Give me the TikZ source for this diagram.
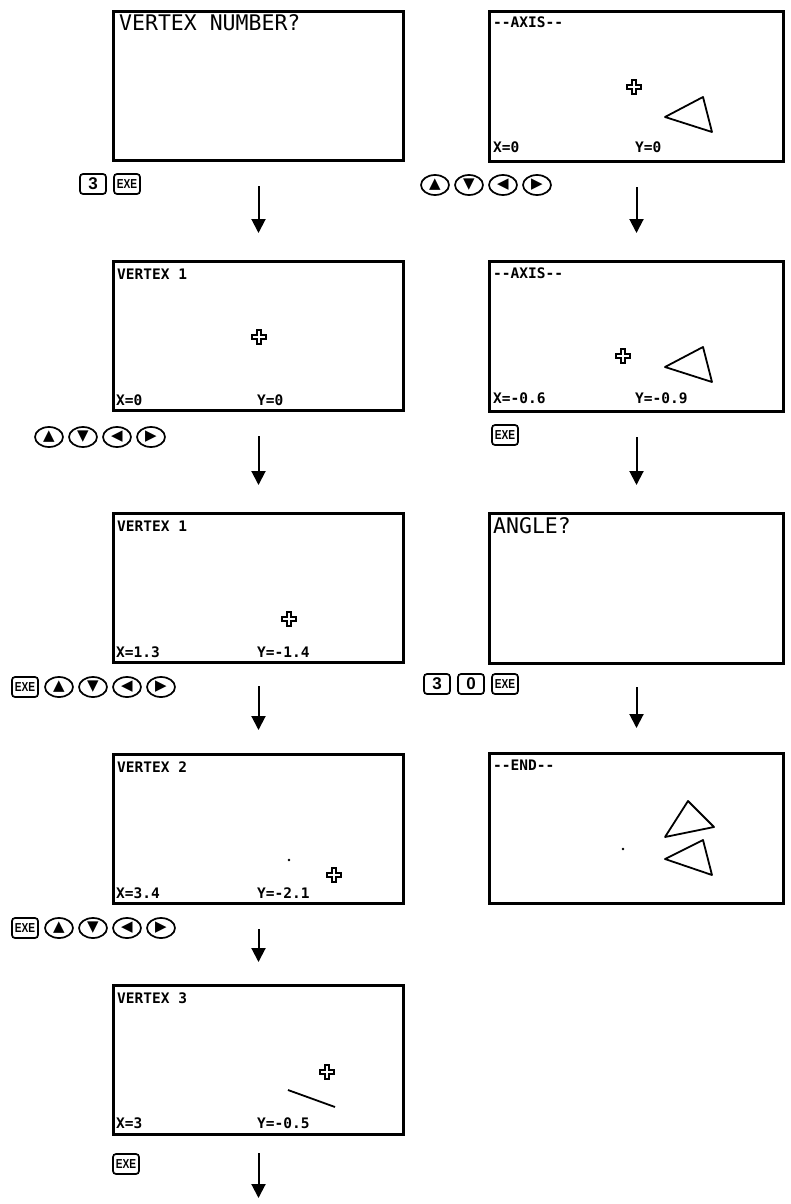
\documentclass[tikz,border=0pt]{standalone}
\usepackage{fontspec}
\usetikzlibrary{arrows.meta,shapes.geometric}
\newfontfamily\lcdfont{DejaVu Sans Mono}
\newfontfamily\keyfont[FakeStretch=0.78]{Liberation Sans}
\newfontfamily\numfont{Liberation Sans}
\newfontfamily\symfont{DejaVu Sans}
\tikzset{
  scrL/.style={draw, line width=3pt, minimum width=290pt, minimum height=149pt, inner sep=0pt, anchor=north west},
  scrR/.style={draw, line width=3pt, minimum width=294pt, minimum height=150pt, inner sep=0pt, anchor=north west},
  bigtxt/.style={anchor=base west, inner sep=0pt, font=\lcdfont\fontsize{21.5}{21.5}\selectfont},
  smtxt/.style={anchor=base west, inner sep=0pt, font=\lcdfont\bfseries\fontsize{14.5}{14.5}\selectfont},
  flow/.style={line width=2pt, -{Triangle[width=14pt,length=14pt]}},
  exekey/.style={draw, rounded corners=3pt, line width=1.7pt, minimum width=26pt, minimum height=20pt, inner sep=0pt, font=\keyfont\bfseries\fontsize{13}{13}\selectfont},
  numkey/.style={exekey, font=\numfont\bfseries\fontsize{17}{17}\selectfont},
  arrkey/.style={draw, ellipse, line width=1.7pt, minimum width=28pt, minimum height=20pt, inner sep=0pt, font=\symfont\fontsize{15}{15}\selectfont},
  curs/.pic={\draw[line width=2.2pt, line join=miter] (-2.2,-7) -- (2.2,-7) -- (2.2,-2.2) -- (7,-2.2) -- (7,2.2) -- (2.2,2.2) -- (2.2,7) -- (-2.2,7) -- (-2.2,2.2) -- (-7,2.2) -- (-7,-2.2) -- (-2.2,-2.2) -- cycle;},
  tri/.style={line width=1.8pt, line join=round},
}
\begin{document}
\begin{tikzpicture}[x=1pt, y=-1pt]
\useasboundingbox (0,0) rectangle (790,1204);

% ---------- left column ----------
\node[scrL] (L1) at (112,10) {};
\node[scrL] (L2) at (112,260) {};
\node[scrL] (L3) at (112,512) {};
\node[scrL] (L4) at (112,753) {};
\node[scrL] (L5) at (112,984) {};

\begin{scope}[shift={(L1.north west)}]
  \node[bigtxt] (L1t) at (7,21) {VERTEX NUMBER?};
\end{scope}

\begin{scope}[shift={(L2.north west)}]
  \node[smtxt] (L2t) at (5,19) {VERTEX 1};
  \path (147,77) pic {curs};
  \node[smtxt] (L2x) at (4,145) {X=0};
  \node[smtxt] (L2y) at (145,145) {Y=0};
\end{scope}

\begin{scope}[shift={(L3.north west)}]
  \node[smtxt] (L3t) at (5,19) {VERTEX 1};
  \path (177,107) pic {curs};
  \node[smtxt] (L3x) at (4,145) {X=1.3};
  \node[smtxt] (L3y) at (145,145) {Y=-1.4};
\end{scope}

\begin{scope}[shift={(L4.north west)}]
  \node[smtxt] (L4t) at (5,19) {VERTEX 2};
  \fill (177,107) circle (1.3pt);
  \path (222,122) pic {curs};
  \node[smtxt] (L4x) at (4,145) {X=3.4};
  \node[smtxt] (L4y) at (145,145) {Y=-2.1};
\end{scope}

\begin{scope}[shift={(L5.north west)}]
  \node[smtxt] (L5t) at (5,19) {VERTEX 3};
  \draw[tri] (176,106) -- (223,123);
  \path (215,88) pic {curs};
  \node[smtxt] (L5x) at (4,144) {X=3};
  \node[smtxt] (L5y) at (145,144) {Y=-0.5};
\end{scope}

% ---------- right column ----------
\node[scrR] (R1) at (488,10) {};
\node[scrR] (R2) at (488,260) {};
\node[scrR] (R3) at (488,512) {};
\node[scrR] (R4) at (488,752) {};

\begin{scope}[shift={(R1.north west)}]
  \node[smtxt] (R1t) at (5,18) {-{}-AXIS-{}-};
  \path (146,77) pic {curs};
  \draw[tri] (177,107) -- (215,87) -- (224,122) -- cycle;
  \node[smtxt] (R1x) at (5,143) {X=0};
  \node[smtxt] (R1y) at (147,143) {Y=0};
\end{scope}

\begin{scope}[shift={(R2.north west)}]
  \node[smtxt] (R2t) at (5,18) {-{}-AXIS-{}-};
  \path (135,96) pic {curs};
  \draw[tri] (177,107) -- (215,87) -- (224,122) -- cycle;
  \node[smtxt] (R2x) at (5,143) {X=-0.6};
  \node[smtxt] (R2y) at (147,143) {Y=-0.9};
\end{scope}

\begin{scope}[shift={(R3.north west)}]
  \node[bigtxt] (R3t) at (5,21) {ANGLE?};
\end{scope}

\begin{scope}[shift={(R4.north west)}]
  \node[smtxt] (R4t) at (5,18) {-{}-END-{}-};
  \fill (135,97) circle (1.3pt);
  \draw[tri] (177,107) -- (215,88) -- (224,123) -- cycle;
  \draw[tri] (177,85) -- (200,49) -- (226,75) -- cycle;
\end{scope}

% ---------- flow arrows ----------
\coordinate (endpt) at (257,1198);
\draw[flow] ([yshift=-24pt]L1.south) -- ([yshift=27pt]L2.north);
\draw[flow] ([yshift=-24pt]L2.south) -- ([yshift=27pt]L3.north);
\draw[flow] ([yshift=-22pt]L3.south) -- ([yshift=23pt]L4.north);
\draw[flow] ([yshift=-24pt]L4.south) -- ([yshift=22pt]L5.north);
\draw[flow] ([yshift=-17pt]L5.south) -- (L5.south |- endpt);
\draw[flow] ([yshift=-24pt]R1.south) -- ([yshift=27pt]R2.north);
\draw[flow] ([yshift=-24pt]R2.south) -- ([yshift=27pt]R3.north);
\draw[flow] ([yshift=-22pt]R3.south) -- ([yshift=24pt]R4.north);

% ---------- keys ----------
\node[numkey] (k1a) at (93,184) {3};
\node[exekey] (k1b) at (127,184) {EXE};
\node[arrkey] (k2a) at (435,185) {▲};
\node[arrkey] (k2b) at (469,185) {▼};
\node[arrkey] (k2c) at (503,185) {◀};
\node[arrkey] (k2d) at (537,185) {▶};
\node[arrkey] (k3a) at (49,437) {▲};
\node[arrkey] (k3b) at (83,437) {▼};
\node[arrkey] (k3c) at (117,437) {◀};
\node[arrkey] (k3d) at (151,437) {▶};
\node[exekey] (k4a) at (505,435) {EXE};
\node[exekey] (k5a) at (25,687) {EXE};
\node[arrkey] (k5b) at (59,687) {▲};
\node[arrkey] (k5c) at (93,687) {▼};
\node[arrkey] (k5d) at (127,687) {◀};
\node[arrkey] (k5e) at (161,687) {▶};
\node[numkey] (k6a) at (437,684) {3};
\node[numkey] (k6b) at (471,684) {0};
\node[exekey] (k6c) at (505,684) {EXE};
\node[exekey] (k7a) at (25,928) {EXE};
\node[arrkey] (k7b) at (59,928) {▲};
\node[arrkey] (k7c) at (93,928) {▼};
\node[arrkey] (k7d) at (127,928) {◀};
\node[arrkey] (k7e) at (161,928) {▶};
\node[exekey] (k8a) at (126,1164) {EXE};
\end{tikzpicture}
\end{document}
